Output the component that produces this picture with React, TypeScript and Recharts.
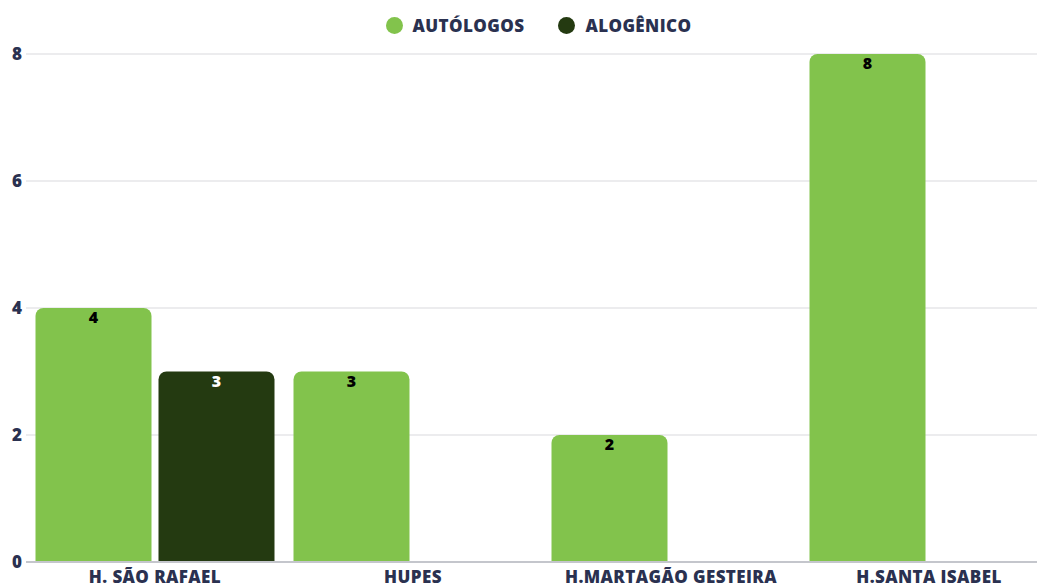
import * as React from 'react';
import { BarChart, Bar, XAxis, YAxis, CartesianGrid, Legend, LabelList } from 'recharts';

const hospitals = ['H. SÃO RAFAEL', 'HUPES', 'H.MARTAGÃO GESTEIRA', 'H.SANTA ISABEL'];
const autologos = [4, 3, 2, 8];
const alogenico: (number | null)[] = [3, null, null, null];
const yTicks = [0, 2, 4, 6, 8];

const GREEN = '#82c34c';
const DARK = '#243a11';
const TEXT = '#2a3150';
const FONT = '"Open Sans", "Noto Sans", sans-serif';

const data = hospitals.map((name, i) => ({
  name,
  autologos: autologos[i],
  alogenico: alogenico[i]
}));

const legendItems = [
  { label: 'AUTÓLOGOS', color: GREEN },
  { label: 'ALOGÊNICO', color: DARK }
];

const LegendContent = () => (
  <div style={{ display: 'flex', justifyContent: 'center', alignItems: 'center', gap: 34, height: 22 }}>
    {legendItems.map(item => (
      <div key={item.label} style={{ display: 'flex', alignItems: 'center', gap: 10 }}>
        <span style={{ width: 17, height: 17, borderRadius: '50%', background: item.color, display: 'inline-block' }} />
        <span style={{ fontFamily: FONT, fontWeight: 800, fontSize: 17, color: TEXT, letterSpacing: 0.4 }}>{item.label}</span>
      </div>
    ))}
  </div>
);

export default function App() {
  return (
    <div style={{ position: 'absolute', left: 0, top: 0, width: 1037, height: 587, overflow: 'hidden', background: '#fff' }}>
      <BarChart
        width={1037}
        height={587}
        data={data}
        margin={{ top: 32, right: -21, bottom: 0, left: 0 }}
        barCategoryGap={9.5}
        barGap={7}
      >
        <CartesianGrid vertical={false} stroke="#d9d9dd" />
        <XAxis
          dataKey="name"
          height={25}
          tickLine={false}
          tickSize={0}
          tickMargin={9}
          axisLine={{ stroke: '#c4c6cc', strokeWidth: 2 }}
          tick={{ fill: TEXT, fontFamily: FONT, fontWeight: 800, fontSize: 17, letterSpacing: 0.4 }}
          interval={0}
        />
        <YAxis
          width={26}
          domain={[0, 8]}
          ticks={yTicks}
          axisLine={false}
          tickLine={false}
          tickSize={0}
          tickMargin={4}
          tick={{ fill: TEXT, fontFamily: FONT, fontWeight: 800, fontSize: 17 }}
        />
        <Legend
          verticalAlign="top"
          content={<LegendContent />}
          wrapperStyle={{ top: 14, left: 20, width: 1037 }}
        />
        <Bar dataKey="autologos" name="AUTÓLOGOS" fill={GREEN} radius={[8, 8, 0, 0]} isAnimationActive={false}>
          <LabelList dataKey="autologos" position="insideTop" offset={4} fill="#000" fontFamily={FONT} fontWeight={800} fontSize={16} />
        </Bar>
        <Bar dataKey="alogenico" name="ALOGÊNICO" fill={DARK} radius={[8, 8, 0, 0]} isAnimationActive={false}>
          <LabelList dataKey="alogenico" position="insideTop" offset={4} fill="#fff" fontFamily={FONT} fontWeight={800} fontSize={16} />
        </Bar>
      </BarChart>
    </div>
  );
}
